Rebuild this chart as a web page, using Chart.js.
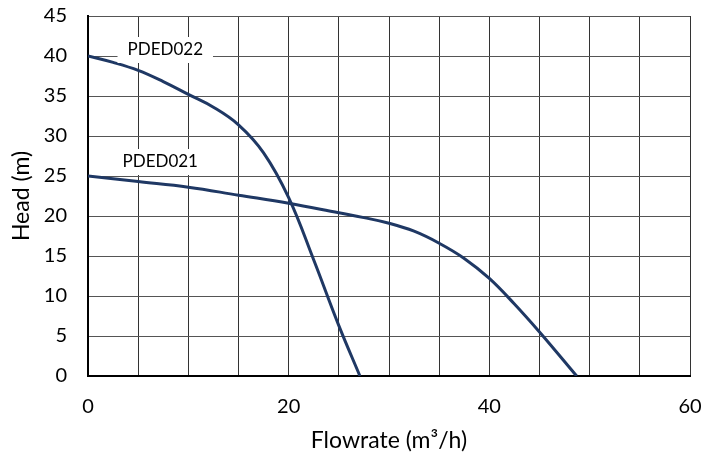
<!DOCTYPE html>
<html>
<head>
<meta charset="utf-8">
<script src="https://cdn.jsdelivr.net/npm/chart.js@4.4.1/dist/chart.umd.min.js"></script>
<style>
  html, body { margin: 0; padding: 0; background: #fff; }
  #wrap { width: 704px; height: 456px; }
</style>
</head>
<body>
<div id="wrap"><canvas id="pumpChart" width="704" height="456"></canvas></div>
<script>
// Pump curves
const flowPDED022 = [0, 2.5, 5, 7.5, 10, 12.5, 15, 17.5, 20, 22.5, 25, 27.1];
const headPDED022 = [40, 39.2, 38.2, 36.8, 35.2, 33.6, 31.4, 27.9, 22.3, 14.5, 6.3, 0];

const flowPDED021 = [0, 5, 10, 15, 20, 25, 27.5, 30, 32.5, 35, 37.5, 40, 42.5, 45, 48.7];
const headPDED021 = [25, 24.3, 23.6, 22.6, 21.6, 20.4, 19.8, 19.1, 18.1, 16.6, 14.7, 12.2, 9.0, 5.5, 0];

const seriesNames = ["PDED022", "PDED021"];
// label anchor points (data units) for the curve names
const labelAt = [
  { x: 7.7, y: 40.75 },
  { x: 7.2, y: 26.75 },
];

const xTicksShown = [0, 20, 40, 60];
const fontFamily = "Lato, 'Open Sans', sans-serif";
const curveColor = "#1f3864";

function toPoints(xs, ys) {
  return xs.map((x, i) => ({ x, y: ys[i] }));
}

const curveLabels = {
  id: "curveLabels",
  afterDatasetsDraw(chart) {
    const { ctx, scales } = chart;
    ctx.save();
    ctx.font = "17px " + fontFamily;
    ctx.textAlign = "center";
    ctx.textBaseline = "middle";
    seriesNames.forEach((name, i) => {
      const px = scales.x.getPixelForValue(labelAt[i].x);
      const py = scales.y.getPixelForValue(labelAt[i].y);
      const w = ctx.measureText(name).width + 20;
      ctx.fillStyle = "#fff";
      ctx.fillRect(px - w / 2, py - 13, w, 26);
      ctx.fillStyle = "#000";
      ctx.fillText(name, px, py);
    });
    ctx.restore();
  },
};

new Chart(document.getElementById("pumpChart"), {
  type: "scatter",
  data: {
    datasets: [
      {
        label: seriesNames[0],
        data: toPoints(flowPDED022, headPDED022),
        showLine: true,
        borderColor: curveColor,
        borderWidth: 3,
        pointRadius: 0,
        tension: 0.4,
      },
      {
        label: seriesNames[1],
        data: toPoints(flowPDED021, headPDED021),
        showLine: true,
        borderColor: curveColor,
        borderWidth: 3,
        pointRadius: 0,
        tension: 0.4,
      },
    ],
  },
  options: {
    responsive: false,
    animation: false,
    layout: { padding: { left: 0, top: 16, right: 14, bottom: 0 } },
    plugins: {
      legend: { display: false },
      tooltip: { enabled: false },
    },
    scales: {
      x: {
        type: "linear",
        min: 0,
        max: 60,
        afterFit(axis) {
          axis.height = 80;
          axis.paddingLeft = 0;
          axis.paddingRight = 0;
        },
        grid: { color: "#333", lineWidth: 1, drawTicks: false },
        border: { color: "#000", width: 2 },
        ticks: {
          stepSize: 5,
          autoSkip: false,
          maxRotation: 0,
          padding: 19,
          color: "#000",
          font: { family: fontFamily, size: 20 },
          callback: (v) => (xTicksShown.includes(v) ? v : ""),
        },
        title: {
          display: true,
          text: "Flowrate (m³/h)",
          color: "#000",
          font: { family: fontFamily, size: 23 },
          padding: { top: 2, bottom: 2 },
        },
      },
      y: {
        min: 0,
        max: 45,
        afterFit(axis) {
          axis.width = 88;
          axis.paddingTop = 0;
          axis.paddingBottom = 0;
        },
        grid: { color: "#555", lineWidth: 1, drawTicks: false },
        border: { color: "#000", width: 2 },
        ticks: {
          stepSize: 5,
          padding: 21,
          color: "#000",
          font: { family: fontFamily, size: 20 },
        },
        title: {
          display: true,
          text: "Head (m)",
          color: "#000",
          font: { family: fontFamily, size: 23 },
          padding: { top: 8, bottom: 8 },
        },
      },
    },
  },
  plugins: [curveLabels],
});
</script>
</body>
</html>
